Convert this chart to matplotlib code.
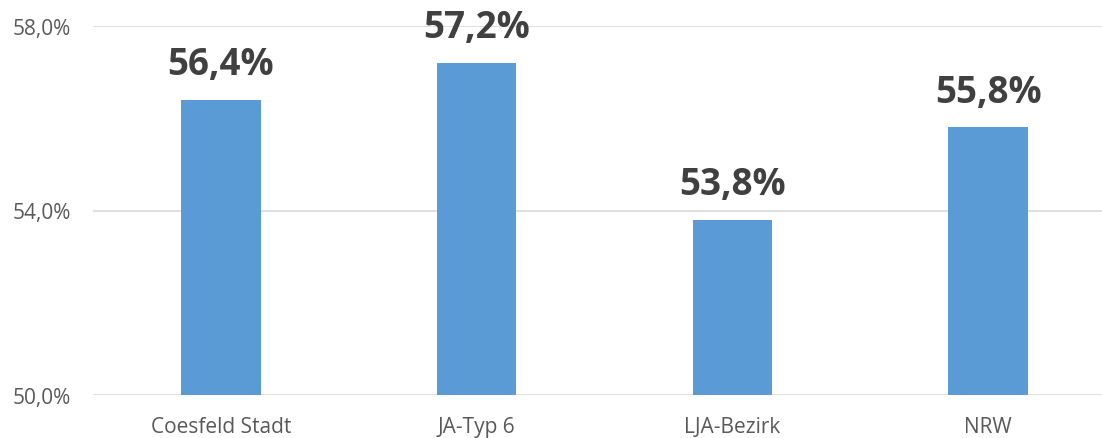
import matplotlib
matplotlib.use("Agg")
import matplotlib.pyplot as plt

# Chart values
categories = ["Coesfeld Stadt", "JA-Typ 6", "LJA-Bezirk", "NRW"]
values = [56.4, 57.2, 53.8, 55.8]
y_ticks = [50, 54, 58]

bar_color = "#5B9BD5"
plt.rcParams['font.family'] = ['Open Sans', 'DejaVu Sans']

fig = plt.figure(figsize=(11.02, 4.39), dpi=100)
# axes runs a little past the right edge, as in the original crop
ax = fig.add_axes([93 / 1102, 1 - 396 / 439, 1023 / 1102, (396 - 27) / 439])

x = range(len(categories))
bars = ax.bar(x, values, width=0.31, color=bar_color, zorder=3)

ax.set_xlim(-0.5, len(categories) - 0.5)
ax.set_ylim(50, 58)
ax.set_yticks(y_ticks)
ax.set_yticklabels([f"{v:.1f}%".replace(".", ",") for v in y_ticks])
ax.set_xticks(list(x))
ax.set_xticklabels(categories)

# gridlines only, no frame
ax.grid(axis="y", color="#D9D9D9", linewidth=1.2, zorder=0)
for s in ax.spines.values():
    s.set_visible(False)
ax.tick_params(axis="both", length=0, labelsize=15, colors="#595959")
ax.tick_params(axis="y", pad=16)
ax.tick_params(axis="x", pad=15)

# data labels above bars
for b, v in zip(bars, values):
    ax.annotate(f"{v:.1f}%".replace(".", ","),
                (b.get_x() + b.get_width() / 2, v),
                xytext=(0, 12), textcoords="offset points",
                ha="center", va="bottom",
                fontsize=26.5, fontweight="bold", color="#404040")

fig.savefig("out.png", dpi=100)
